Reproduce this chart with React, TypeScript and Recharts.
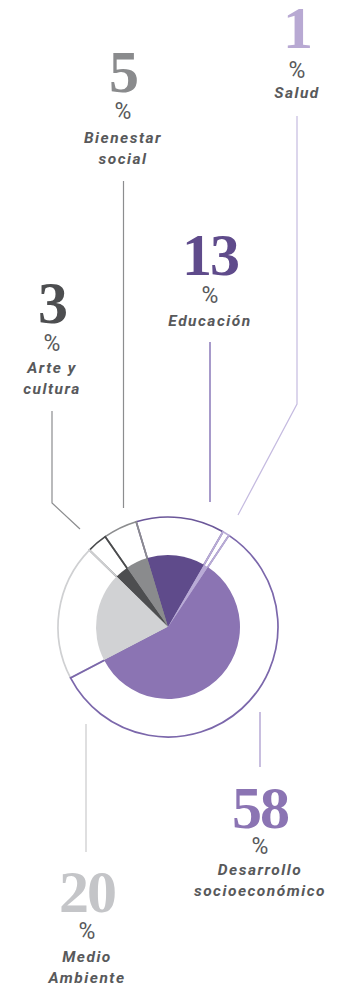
import React from 'react';
import { PieChart, Pie, Cell } from 'recharts';

// Distribution by area, in percent (drawn counterclockwise from the top right)
const categories = ['Educación', 'Bienestar social', 'Arte y cultura', 'Medio Ambiente', 'Desarrollo socioeconómico', 'Salud'];
const shares = [13, 5, 3, 20, 58, 1];
const fillColors = ['#5f4b8b', '#8a8b8d', '#4d4e50', '#d1d2d4', '#8b74b3', '#b9abd6'];
const strokeColors = ['#6b5799', '#8c8d8f', '#4a4b4d', '#cfd0d2', '#7b67ab', '#b9acd6'];

const data = categories.map((name, i) => ({ name, value: shares[i] }));

const CX = 168;
const CY = 627;

const numFont = { fontFamily: '"Liberation Serif", serif', fontWeight: 700, fontSize: 60, letterSpacing: -2 };
const pctFont = { fontFamily: 'Roboto, sans-serif', fontWeight: 400, fontSize: 23, fill: '#58595b' };
const labFont = { fontFamily: 'Roboto, sans-serif', fontWeight: 700, fontStyle: 'italic', fontSize: 15.5, letterSpacing: 1.5, fill: '#58595b' };

type LabelProps = { x: number; num: string; numY: number; color: string; pctY: number; lines: string[]; lineY: number };

const Label: React.FC<LabelProps> = ({ x, num, numY, color, pctY, lines, lineY }) => (
  <g textAnchor="middle">
    <text x={x} y={numY} style={numFont} fill={color}>{num}</text>
    <text x={x} y={pctY} style={pctFont}>%</text>
    {lines.map((l, i) => (
      <text key={l} x={x} y={lineY + i * 21} style={labFont}>{l}</text>
    ))}
  </g>
);

export default function App() {
  return (
    <div style={{ position: 'absolute', left: 0, top: 0, width: 344, height: 986, background: '#fff' }}>
      <PieChart width={344} height={986} margin={{ top: 0, right: 0, bottom: 0, left: 0 }}>
        {/* outlined outer ring */}
        <Pie
          data={data}
          dataKey="value"
          cx={CX}
          cy={CY}
          innerRadius={0}
          outerRadius={110}
          startAngle={60}
          endAngle={420}
          isAnimationActive={false}
          fill="none"
          strokeWidth={1.7}
        >
          {data.map((d, i) => (
            <Cell key={d.name} fill="none" stroke={strokeColors[i]} />
          ))}
        </Pie>
        {/* filled inner pie */}
        <Pie
          data={data}
          dataKey="value"
          cx={CX}
          cy={CY}
          innerRadius={0}
          outerRadius={72}
          startAngle={60}
          endAngle={420}
          isAnimationActive={false}
          stroke="none"
        >
          {data.map((d, i) => (
            <Cell key={d.name} fill={fillColors[i]} stroke="none" />
          ))}
        </Pie>
      </PieChart>

      <svg width={344} height={986} style={{ position: 'absolute', left: 0, top: 0, pointerEvents: 'none' }}>
        {/* leader lines */}
        <polyline points="297,116 297,404 238,515" fill="none" stroke="#c5bbe0" strokeWidth={1.2} />
        <polyline points="123.5,181 123.5,508" fill="none" stroke="#8c8d8f" strokeWidth={1.2} />
        <polyline points="210,342 210,502" fill="none" stroke="#8a79b8" strokeWidth={1.5} />
        <polyline points="52,411 52,503 80,529" fill="none" stroke="#8c8d8f" strokeWidth={1.2} />
        <polyline points="260,712 260,767" fill="none" stroke="#b6a9d5" strokeWidth={1.5} />
        <polyline points="86,724 86,852" fill="none" stroke="#d4d4d6" strokeWidth={1.5} />

        <Label x={297} num="1" numY={48} color="#b8a9d3" pctY={78} lines={['Salud']} lineY={98} />
        <Label x={123} num="5" numY={92} color="#8a8b8d" pctY={119} lines={['Bienestar', 'social']} lineY={143} />
        <Label x={210} num="13" numY={275} color="#5f4b8b" pctY={303} lines={['Educación']} lineY={326} />
        <Label x={52} num="3" numY={323} color="#4d4e50" pctY={351} lines={['Arte y', 'cultura']} lineY={373} />
        <Label x={260} num="58" numY={828} color="#8b74b3" pctY={854} lines={['Desarrollo', 'socioeconómico']} lineY={875} />
        <Label x={87} num="20" numY={912} color="#c4c5c8" pctY={939} lines={['Medio', 'Ambiente']} lineY={962} />
      </svg>
    </div>
  );
}
